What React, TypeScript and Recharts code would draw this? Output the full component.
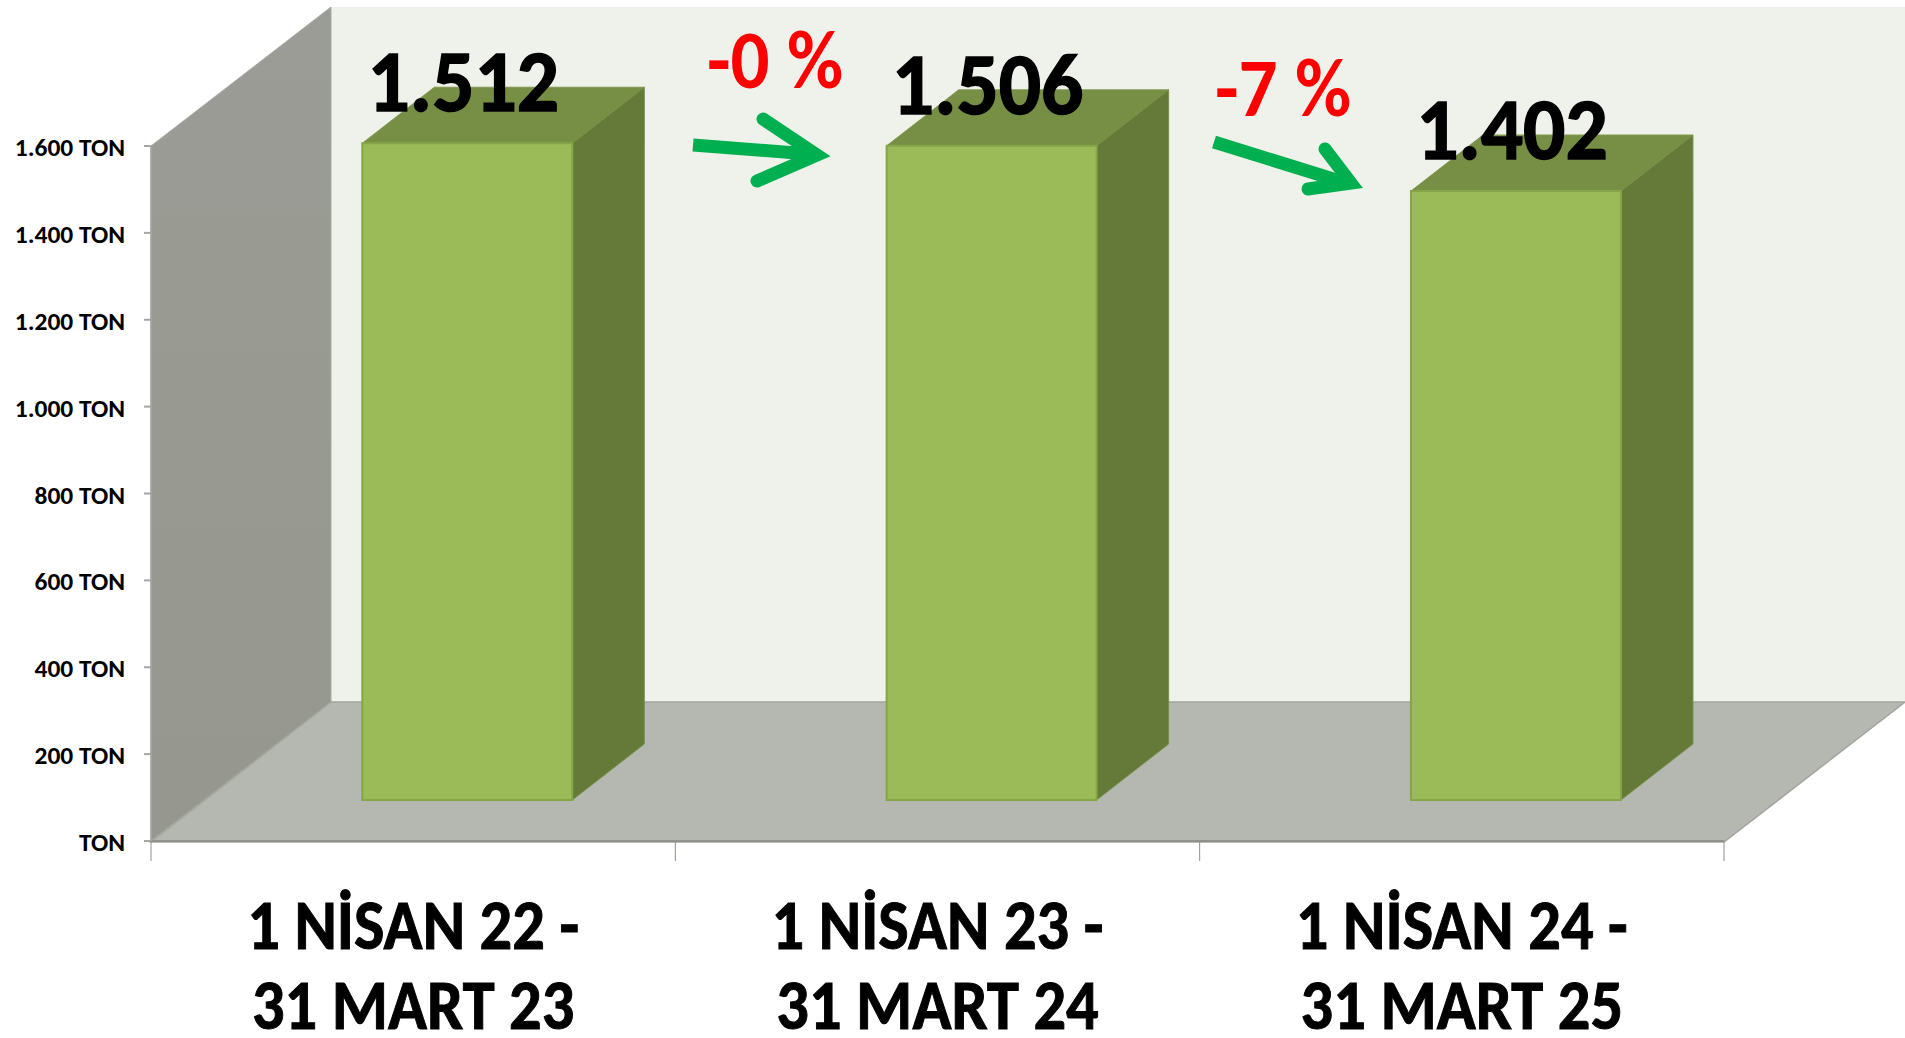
import React from 'react';
import { BarChart, Bar, XAxis, YAxis, LabelList, usePlotArea } from 'recharts';

const categories = [
  ['1 NİSAN 22 -', '31 MART 23'],
  ['1 NİSAN 23 -', '31 MART 24'],
  ['1 NİSAN 24 -', '31 MART 25'],
];
const tonnage = [1512, 1506, 1402];
const valueLabels = ['1.512', '1.506', '1.402'];
const yTicks = [0, 200, 400, 600, 800, 1000, 1200, 1400, 1600];
const yTickLabels = ['TON', '200 TON', '400 TON', '600 TON', '800 TON', '1.000 TON', '1.200 TON', '1.400 TON', '1.600 TON'];

const data = categories.map((c, i) => ({ name: c[0] + ' ' + c[1], idx: i, value: tonnage[i] }));

const W = 1905, H = 1038;
const M = { top: 146, left: 151, right: 181, bottom: 197 };
const WALL_DX = 180, WALL_DY = 139;
const BAR_SHIFT_X = 54, BAR_SHIFT_Y = -41;
const BAR_DX = 72, BAR_DY = 56;
const FONT = 'Carlito, Lato, sans-serif';

function Walls() {
  const p = usePlotArea();
  if (!p) return null;
  const { x, y, width: w, height: h } = p;
  const bx = x + WALL_DX, by = y - WALL_DY;
  const b = y + h;
  return (
    <g>
      <defs>
        <linearGradient id="leftWall" x1="0" y1="0" x2="0" y2="1">
          <stop offset="0" stopColor="#9a9c95" />
          <stop offset="1" stopColor="#96988f" />
        </linearGradient>
      </defs>
      <rect x={bx} y={by} width={W - bx} height={h} fill="#eff2ea" />
      <polygon points={`${x},${y} ${bx},${by} ${bx},${by + h} ${x},${b}`} fill="url(#leftWall)" stroke="#a8aaa3" strokeWidth={1} />
      <polygon points={`${bx},${by + h} ${W},${by + h} ${x + w},${b + 1} ${x},${b + 1}`} fill="#b5b8b0" stroke="#a3a59e" strokeWidth={1.5} />
    </g>
  );
}

function Bar3D(props: any) {
  const { x, y, width, height } = props;
  const l = x + BAR_SHIFT_X, t = y + BAR_SHIFT_Y, r = l + width, b = t + height;
  return (
    <g>
      <polygon points={`${l},${t} ${l + BAR_DX},${t - BAR_DY} ${r + BAR_DX},${t - BAR_DY} ${r},${t}`} fill="#778e45" stroke="#83994f" strokeWidth={1} />
      <polygon points={`${r},${t} ${r + BAR_DX},${t - BAR_DY} ${r + BAR_DX},${b - BAR_DY} ${r},${b}`} fill="#657a38" stroke="#7a8f4a" strokeWidth={1} />
      <rect x={l} y={t} width={width} height={height} fill="#9bbb59" stroke="#86a548" strokeWidth={2} />
    </g>
  );
}

function ValueLabel(props: any) {
  const { x, y, width, index } = props;
  const cx = x + BAR_SHIFT_X + width / 2 - 4;
  const by = y + BAR_SHIFT_Y - 32;
  return (
    <g transform={`translate(${cx},${by}) scale(0.96,1)`}>
      <text textAnchor="middle" fontFamily={FONT} fontWeight={700} fontSize={87} fill="#000" stroke="#000" strokeWidth={1.5}>{valueLabels[index]}</text>
    </g>
  );
}

function YTick(props: any) {
  const { x, y, payload } = props;
  const i = yTicks.indexOf(payload.value);
  return (
    <g transform={`translate(${x - 17},${y + 10}) scale(1.02,1)`}>
      <text textAnchor="end" fontFamily={FONT} fontWeight={700} fontSize={25} fill="#000">{yTickLabels[i]}</text>
    </g>
  );
}

function XTick(props: any) {
  const { x, y, index, width } = props;
  const band = width / categories.length;
  const c = categories[index];
  const left = x - band / 2;
  return (
    <g>
      <line x1={left} y1={y - 8} x2={left} y2={y + 12} stroke="#8f918a" strokeWidth={1} />
      {index === categories.length - 1 && (
        <line x1={left + band} y1={y - 8} x2={left + band} y2={y + 12} stroke="#8f918a" strokeWidth={1} />
      )}
      <g transform={`translate(${x},949) scale(0.92,1)`}>
        <text textAnchor="middle" fontFamily={FONT} fontWeight={700} fontSize={70} fill="#000" stroke="#000" strokeWidth={1}>{c[0]}</text>
      </g>
      <g transform={`translate(${x},1029) scale(0.92,1)`}>
        <text textAnchor="middle" fontFamily={FONT} fontWeight={700} fontSize={70} fill="#000" stroke="#000" strokeWidth={1}>{c[1]}</text>
      </g>
    </g>
  );
}

function Arrow({ from, tip, b1, b2 }: { from: number[]; tip: number[]; b1: number[]; b2: number[] }) {
  return (
    <g fill="none" stroke="#00b050" strokeWidth={13}>
      <line x1={from[0]} y1={from[1]} x2={tip[0] - 8} y2={tip[1] - 1} />
      <polyline points={`${b1} ${tip} ${b2}`} strokeLinecap="round" strokeLinejoin="miter" strokeMiterlimit={6} />
    </g>
  );
}

function Annotations() {
  return (
    <g>
      <Arrow from={[693, 145]} tip={[817, 155]} b1={[763, 119]} b2={[757, 181]} />
      <Arrow from={[1214, 142]} tip={[1351, 183]} b1={[1325, 149]} b2={[1308, 189]} />
      <g transform="translate(775,88) scale(0.94,1)">
        <text textAnchor="middle" fontFamily={FONT} fontWeight={700} fontSize={82} fill="#ff0000">-0 %</text>
      </g>
      <g transform="translate(1283,116) scale(0.94,1)">
        <text textAnchor="middle" fontFamily={FONT} fontWeight={700} fontSize={82} fill="#ff0000">-7 %</text>
      </g>
    </g>
  );
}

export default function App() {
  return (
    <div style={{ position: 'absolute', left: 0, top: 0, width: W, height: H, overflow: 'hidden', background: '#fff' }}>
      <BarChart width={W} height={H} data={data} margin={{ top: M.top, right: M.right, left: 0, bottom: 0 }} barCategoryGap="30%">
        <Walls />
        <XAxis dataKey="name" height={M.bottom} tickLine={false} axisLine={{ stroke: '#8f918a', strokeWidth: 2 }} tick={XTick} interval={0} />
        <YAxis
          width={M.left}
          domain={[0, 1600]}
          ticks={yTicks}
          interval={0}
          tickLine={{ stroke: '#a5a7a0', strokeWidth: 2 }}
          tickSize={7}
          axisLine={{ stroke: '#a5a7a0', strokeWidth: 1.5 }}
          tick={YTick}
        />
        <Bar dataKey="value" shape={Bar3D} isAnimationActive={false}>
          <LabelList dataKey="value" content={ValueLabel} />
        </Bar>
        <Annotations />
      </BarChart>
    </div>
  );
}
